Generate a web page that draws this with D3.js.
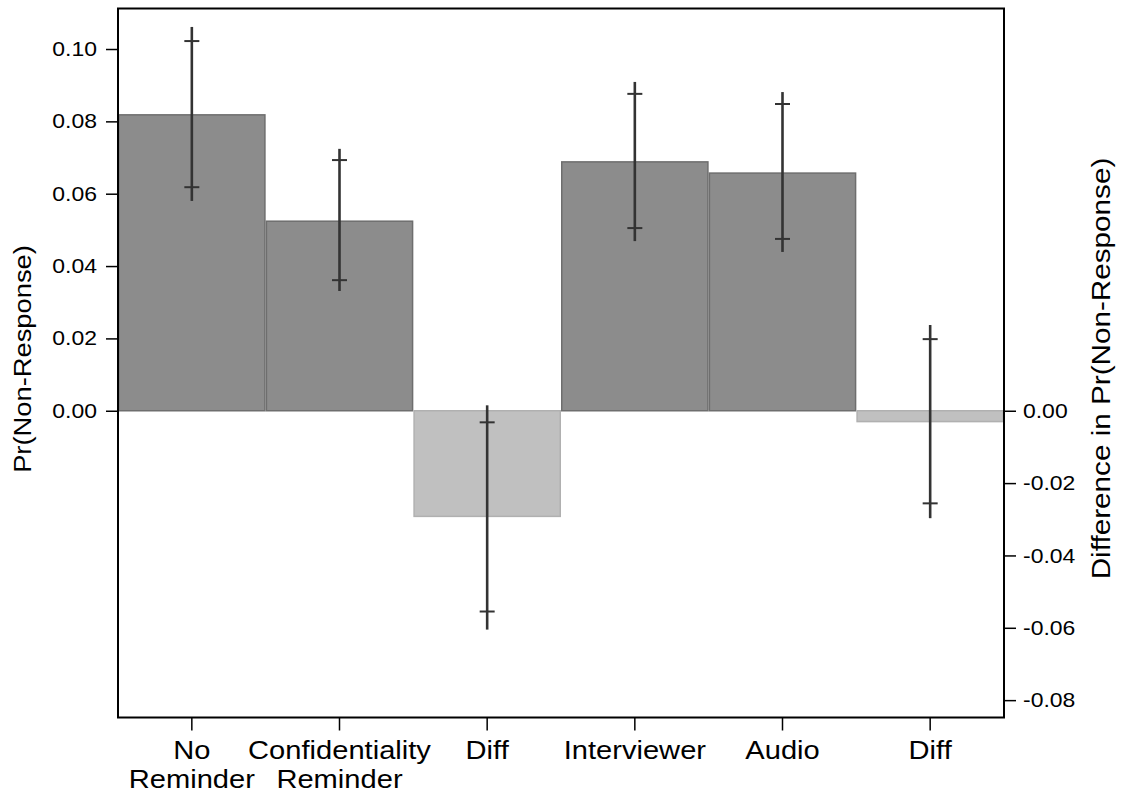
<!DOCTYPE html>
<html>
<head>
<meta charset="utf-8">
<script src="https://cdn.jsdelivr.net/npm/d3@7"></script>
<style>
  html, body { margin: 0; padding: 0; background: #fff; }
  svg { display: block; font-family: "Liberation Sans", Arial, Helvetica, sans-serif; }
</style>
</head>
<body>
<svg id="chart" width="1123" height="795"></svg>
<script>
// ---- data ----
const categories = ["No Reminder", "Confidentiality Reminder", "Diff", "Interviewer", "Audio", "Diff"];
const labelLines = [["No", "Reminder"], ["Confidentiality", "Reminder"], ["Diff"], ["Interviewer"], ["Audio"], ["Diff"]];
const barKind = ["level", "level", "diff", "level", "level", "diff"];
const values = [0.0818, 0.0524, -0.0292, 0.0688, 0.0657, -0.0030];
const ci95Lo = [0.0580, 0.0331, -0.0605, 0.0469, 0.0439, -0.0297];
const ci95Hi = [0.1061, 0.0724, 0.0015, 0.0909, 0.0881, 0.0237];
const ci90Lo = [0.0618, 0.0361, -0.0555, 0.0505, 0.0475, -0.0256];
const ci90Hi = [0.1022, 0.0693, -0.0032, 0.0876, 0.0848, 0.0198];
const leftTicks = [0.00, 0.02, 0.04, 0.06, 0.08, 0.10];
const rightTicks = [0.00, -0.02, -0.04, -0.06, -0.08];
const yDomain = [-0.0848, 0.1112];
const leftTitle = "Pr(Non-Response)";
const rightTitle = "Difference in Pr(Non-Response)";

// ---- layout ----
const L = 118, R = 1004, T = 8.5, B = 717.5;
const SX = 1.12; // horizontal glyph stretch of the original font
const svg = d3.select("#chart");

const x = d3.scaleBand().domain(d3.range(categories.length)).range([L, R]).padding(0);
const y = d3.scaleLinear().domain(yDomain).range([B, T]);

const fills = { level: "#8c8c8c", diff: "#c0c0c0" };
const strokes = { level: "#6e6e6e", diff: "#b0b0b0" };

// bars
svg.append("g").selectAll("rect")
  .data(values)
  .join("rect")
  .attr("x", (d, i) => x(i) + 0.75)
  .attr("width", x.bandwidth() - 1.5)
  .attr("y", d => Math.min(y(d), y(0)))
  .attr("height", d => Math.abs(y(d) - y(0)))
  .attr("fill", (d, i) => fills[barKind[i]])
  .attr("stroke", (d, i) => strokes[barKind[i]])
  .attr("stroke-width", 1.5);

// error bars: 95% line, 90% caps
const eb = svg.append("g").attr("stroke", "#333333");
eb.selectAll("line.ci95")
  .data(values)
  .join("line")
  .attr("class", "ci95")
  .attr("x1", (d, i) => x(i) + x.bandwidth() / 2)
  .attr("x2", (d, i) => x(i) + x.bandwidth() / 2)
  .attr("y1", (d, i) => y(ci95Lo[i]))
  .attr("y2", (d, i) => y(ci95Hi[i]))
  .attr("stroke-width", 2.6);
const capW = 7.5;
[ci90Lo, ci90Hi].forEach(arr => {
  eb.append("g").selectAll("line")
    .data(arr)
    .join("line")
    .attr("x1", (d, i) => x(i) + x.bandwidth() / 2 - capW)
    .attr("x2", (d, i) => x(i) + x.bandwidth() / 2 + capW)
    .attr("y1", d => y(d))
    .attr("y2", d => y(d))
    .attr("stroke-width", 2);
});

// left axis
const gL = svg.append("g").attr("transform", `translate(${L},0)`)
  .call(d3.axisLeft(y).tickValues(leftTicks).tickFormat(d3.format(".2f")).tickSize(12).tickPadding(9));
gL.select(".domain").remove();
gL.selectAll(".tick line").attr("stroke", "#000").attr("stroke-width", 1.5);
gL.selectAll(".tick text")
  .attr("font-size", 20.5).attr("fill", "#000")
  .attr("x", -21 / SX).attr("transform", `scale(${SX},1)`);

// right axis
const gR = svg.append("g").attr("transform", `translate(${R},0)`)
  .call(d3.axisRight(y).tickValues(rightTicks).tickFormat(d3.format(".2f")).tickSize(12).tickPadding(7));
gR.select(".domain").remove();
gR.selectAll(".tick line").attr("stroke", "#000").attr("stroke-width", 1.5);
gR.selectAll(".tick text")
  .text(d => d3.format(".2f")(d).replace("−", "-"))
  .attr("font-size", 20.5).attr("fill", "#000")
  .attr("x", 19 / SX).attr("transform", `scale(${SX},1)`);

// bottom axis
const gB = svg.append("g").attr("transform", `translate(0,${B})`)
  .call(d3.axisBottom(x).tickSize(13).tickFormat(""));
gB.select(".domain").remove();
gB.selectAll(".tick line").attr("stroke", "#000").attr("stroke-width", 1.5);
gB.selectAll(".tick text").each(function (d, i) {
  const t = d3.select(this)
    .attr("y", 0).attr("dy", null)
    .attr("font-size", 26).attr("fill", "#000")
    .attr("text-anchor", "middle")
    .attr("transform", `scale(${SX},1)`);
  labelLines[i].forEach((line, k) => {
    t.append("tspan")
      .attr("x", 0)
      .attr("y", 41.5 + k * 29)
      .text(line);
  });
});

// frame
svg.append("rect")
  .attr("x", L).attr("y", T)
  .attr("width", R - L).attr("height", B - T)
  .attr("fill", "none").attr("stroke", "#000").attr("stroke-width", 2);

// axis titles
svg.append("text")
  .attr("transform", `translate(31,359) rotate(-90) scale(${SX},1)`)
  .attr("text-anchor", "middle").attr("font-size", 24.4).attr("fill", "#000")
  .text(leftTitle);
svg.append("text")
  .attr("transform", `translate(1110,368.5) rotate(-90) scale(${SX},1)`)
  .attr("text-anchor", "middle").attr("font-size", 26.5).attr("fill", "#000")
  .text(rightTitle);
</script>
</body>
</html>
